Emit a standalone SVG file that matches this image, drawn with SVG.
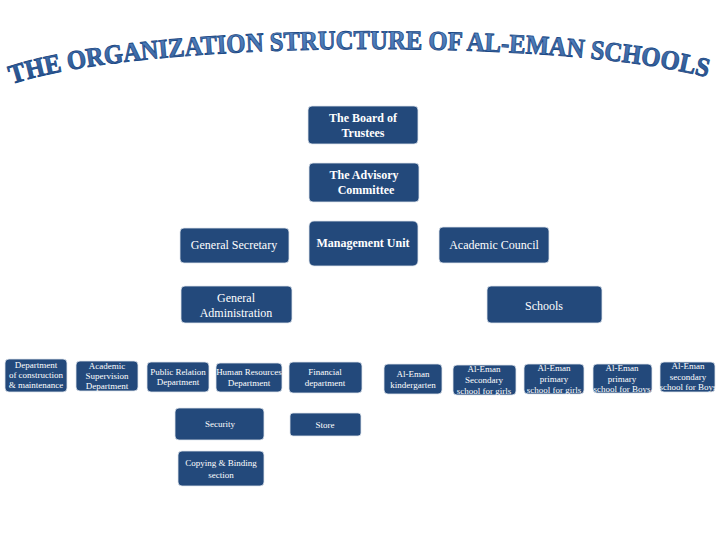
<svg xmlns="http://www.w3.org/2000/svg" width="720" height="540" viewBox="0 0 720 540">
<defs>
<linearGradient id="tg" x1="0" y1="0" x2="0" y2="1">
<stop offset="0" stop-color="#5f8fcc"/>
<stop offset="1" stop-color="#1a437e"/>
</linearGradient>
<path id="arc" d="M 12 84 C 150 38 580 38 716 80"/>
</defs>
<style>
.n rect{fill:#23497b;stroke:#dfe6ee;stroke-width:0.8}
.n text{fill:#fff;font-family:"Liberation Serif","Times New Roman",serif;text-anchor:middle}
.b text{font-weight:bold;font-size:12px}
.m text{font-size:12px}
.s text{font-size:9px}
.t{font-family:"Liberation Serif","Times New Roman",serif;font-weight:bold;font-size:27px;fill:url(#tg);stroke:#1d4a86;stroke-width:0.9}
</style>
<rect width="720" height="540" fill="#fff"/>
<text class="t"><textPath href="#arc" textLength="700" lengthAdjust="spacingAndGlyphs">THE ORGANIZATION STRUCTURE OF AL-EMAN SCHOOLS</textPath></text>
<g id="connectors"/>
<g id="board" class="n b"><rect x="308" y="106" width="110" height="38" rx="4"/><text x="363" y="122">The Board of</text><text x="363" y="137">Trustees</text></g>
<g id="advisory" class="n b"><rect x="309" y="163" width="110" height="39" rx="4"/><text x="364" y="179">The Advisory</text><text x="366" y="194">Committee</text></g>
<g id="management" class="n b"><rect x="309" y="221" width="109" height="45" rx="5"/><text x="363" y="247">Management Unit</text></g>
<g id="secretary" class="n m"><rect x="180" y="228" width="109" height="35" rx="4"/><text x="234" y="249">General Secretary</text></g>
<g id="academic-council" class="n m"><rect x="439" y="227" width="110" height="36" rx="4"/><text x="494" y="249">Academic Council</text></g>
<g id="general-admin" class="n m"><rect x="181" y="286" width="111" height="37" rx="4"/><text x="236" y="302">General</text><text x="236" y="317">Administration</text></g>
<g id="schools" class="n m"><rect x="487" y="286" width="115" height="37" rx="4"/><text x="544" y="310">Schools</text></g>
<g id="construction" class="n s"><rect x="5" y="359" width="62" height="33" rx="4"/><text x="36" y="368">Department</text><text x="36" y="378">of construction</text><text x="36" y="388">&amp; maintenance</text></g>
<g id="supervision" class="n s"><rect x="76" y="361" width="62" height="30" rx="4"/><text x="107" y="369">Academic</text><text x="107" y="379">Supervision</text><text x="107" y="389">Department</text></g>
<g id="public-relation" class="n s"><rect x="147" y="362" width="62" height="30" rx="4"/><text x="178" y="375">Public Relation</text><text x="178" y="385">Department</text></g>
<g id="human-resources" class="n s"><rect x="216" y="363" width="66" height="29" rx="4"/><text x="249" y="375">Human Resources</text><text x="249" y="386">Department</text></g>
<g id="financial" class="n s"><rect x="289" y="362" width="73" height="31" rx="4"/><text x="325" y="375">Financial</text><text x="325" y="386">department</text></g>
<g id="kindergarten" class="n s"><rect x="384" y="364" width="58" height="30" rx="4"/><text x="413" y="377">Al-Eman</text><text x="413" y="388">kindergarten</text></g>
<g id="sec-girls" class="n s"><rect x="453" y="365" width="63" height="30" rx="4"/><text x="484" y="372">Al-Eman</text><text x="484" y="383">Secondary</text><text x="484" y="394">school for girls</text></g>
<g id="pri-girls" class="n s"><rect x="524" y="364" width="60" height="30" rx="4"/><text x="554" y="371">Al-Eman</text><text x="554" y="382">primary</text><text x="554" y="393">school for girls</text></g>
<g id="pri-boys" class="n s"><rect x="593" y="364" width="59" height="29" rx="4"/><text x="622" y="371">Al-Eman</text><text x="622" y="382">primary</text><text x="622" y="392">school for Boys</text></g>
<g id="sec-boys" class="n s"><rect x="660" y="362" width="55" height="30" rx="4"/><text x="688" y="369">Al-Eman</text><text x="688" y="380">secondary</text><text x="688" y="390">school for Boys</text></g>
<g id="security" class="n s"><rect x="175" y="408" width="89" height="32" rx="4"/><text x="220" y="427" font-size="10">Security</text></g>
<g id="store" class="n s"><rect x="290" y="413" width="71" height="23" rx="3"/><text x="325" y="428" font-size="10">Store</text></g>
<g id="copying" class="n s"><rect x="178" y="451" width="86" height="35" rx="4"/><text x="221" y="466" font-size="10">Copying &amp; Binding</text><text x="221" y="478" font-size="10">section</text></g>
</svg>
